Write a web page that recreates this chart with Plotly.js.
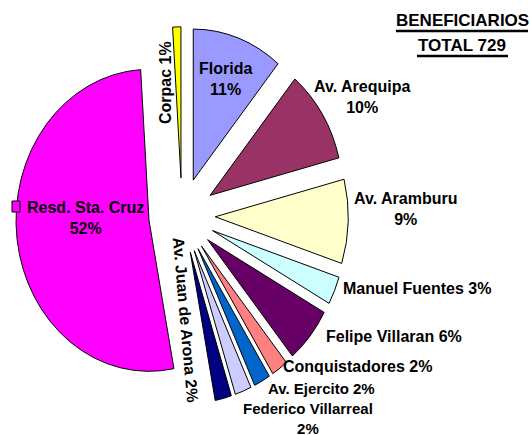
<!DOCTYPE html>
<html><head><meta charset="utf-8">
<script src="https://cdn.plot.ly/plotly-3.0.1.min.js"></script>
<style>html,body{margin:0;padding:0;background:#fff}#chart{width:530px;height:435px}</style>
</head><body><div id="chart"></div>
<script>
// ---- data ----
const labels = ['Florida','Av. Arequipa','Av. Aramburu','Manuel Fuentes','Felipe Villaran','Conquistadores','Av. Ejercito','Federico Villarreal','Av. Juan de Arona','Resd. Sta. Cruz','Corpac'];
const values = [11,10,9,3,6,2,2,2,2,52,1];
const colors = ['#9999FF','#993366','#FFFFCC','#CCFFFF','#660066','#FF8080','#0066CC','#CCCCFF','#000080','#FF00FF','#FFFF00'];
const titleLines = ['BENEFICIARIOS','TOTAL 729'];

// ---- layout helpers ----
const W = 530, H = 435;
const FONT = 'Liberation Sans, Arial, sans-serif';
// label placement (pixel centres), separator between name and percent, rotation, font size
const labelPos = [
  {x:225,y:79,sep:'<br>',a:0,s:16},
  {x:362,y:97,sep:'<br>',a:0,s:16},
  {x:405,y:209,sep:'<br>',a:0,s:16},
  {x:417,y:288,sep:' ',a:0,s:16},
  {x:394,y:336,sep:' ',a:0,s:16},
  {x:357,y:366,sep:' ',a:0,s:16},
  {x:321,y:388,sep:' ',a:0,s:15},
  {x:308,y:418,sep:'<br>',a:0,s:15},
  {x:186,y:320,sep:' ',a:85,s:16},
  {x:85,y:218,sep:'<br>',a:0,s:16},
  {x:165,y:83,sep:' ',a:-90,s:16}
];
const px = v => v / W, py = v => 1 - v / H;

const total = values.reduce((s, v) => s + v, 0);
const annotations = labels.map((lab, i) => ({
  xref:'paper', yref:'paper', x:px(labelPos[i].x), y:py(labelPos[i].y),
  xanchor:'center', yanchor:'middle', showarrow:false, textangle:labelPos[i].a,
  text:'<b>' + lab + labelPos[i].sep + Math.round(values[i] / total * 100) + '%</b>',
  font:{family:FONT, size:labelPos[i].s, color:'#000'}
}));
const titleY = [21, 45.5];
titleLines.forEach((t, k) => annotations.push({
  xref:'paper', yref:'paper', x:px(462), y:py(titleY[k]), xanchor:'center', yanchor:'middle',
  showarrow:false, text:'<b>' + t + '</b>', font:{family:FONT, size:17, color:'#000'}
}));

const shapes = [
  {type:'line', xref:'paper', yref:'paper', x0:px(396), x1:px(528), y0:py(31), y1:py(31), line:{color:'#000', width:2.5}},
  {type:'line', xref:'paper', yref:'paper', x0:px(417), x1:px(508), y0:py(56), y1:py(56), line:{color:'#000', width:2.5}},
  {type:'rect', xref:'paper', yref:'paper', x0:px(12), x1:px(20), y0:py(201), y1:py(212),
   fillcolor:colors[9], line:{color:'#000', width:1}}
];

const data = [{
  type:'pie', labels:labels, values:values, sort:false, direction:'clockwise', rotation:0,
  marker:{colors:colors, line:{color:'#000', width:1}},
  pull:values.map(() => 0.25), textinfo:'none', hoverinfo:'none',
  domain:{x:[0, 364/W], y:[1 - 397.6/H, 1 - 33.6/H]}
}];

const layout = {
  width:W, height:H, margin:{l:0, r:0, t:0, b:0}, showlegend:false,
  paper_bgcolor:'#fff', plot_bgcolor:'#fff', annotations:annotations, shapes:shapes
};

const gd = document.getElementById('chart');
Plotly.newPlot(gd, data, layout, {staticPlot:true}).then(() => {
  const cd = gd.calcdata[0][0];
  const cx = cd.cx, cy = cd.cy, r = cd.r;
  const RX = 133, RY = 151; // the reference pie is slightly elliptical
  const layer = gd.querySelector('.pielayer');
  if (layer) {
    layer.setAttribute('transform',
      'translate(' + cx + ',' + cy + ') scale(' + (RX / r) + ',' + (RY / r) + ') translate(' + (-cx) + ',' + (-cy) + ')');
    layer.querySelectorAll('path').forEach(p => p.setAttribute('vector-effect', 'non-scaling-stroke'));
  }
});
</script>
</body></html>
